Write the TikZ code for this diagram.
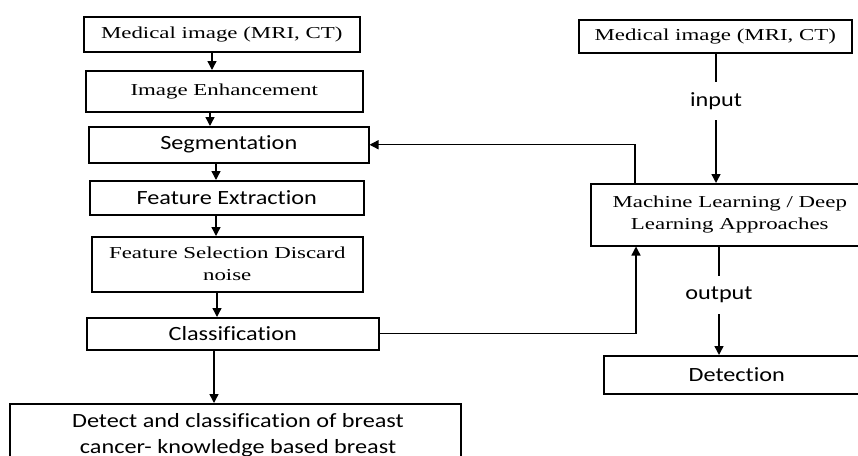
\documentclass[tikz,border=0pt]{standalone}
\usepackage{fontspec}
\usetikzlibrary{arrows.meta}
\newfontfamily\serifB[FakeStretch=1.37]{Liberation Serif}
\newfontfamily\sansB[FakeStretch=1.2,Ligatures=NoCommon]{Carlito}
\begin{document}
\begin{tikzpicture}[x=1pt,y=-1pt,
  box/.style={draw=black, line width=1.5pt, inner sep=0pt, anchor=north west, align=center, text=black},
  serif/.style={font=\serifB\fontsize{16.7}{22}\selectfont},
  sans/.style={font=\sansB\fontsize{20.2}{26}\selectfont},
  arr/.style={line width=1.4pt, -{Triangle[width=9pt,length=9pt]}},
  ln/.style={line width=1.4pt}]
\useasboundingbox (0,0) rectangle (858,455);
\clip (0,0) rectangle (858,455);
% left column
\node[box,serif,minimum width=276pt,minimum height=35pt] (b1) at (83,16) {Medical image (MRI, CT)};
\node[box,serif,minimum width=277pt,minimum height=41pt] (b2) at (85,70) {Image Enhancement};
\node[box,sans,minimum width=280pt,minimum height=36pt] (seg) at (88,126) {Segmentation};
\node[box,sans,minimum width=274pt,minimum height=34pt] (b4) at (89,180) {Feature Extraction};
\node[box,serif,minimum width=271pt,minimum height=55pt] (b5) at (91,236) {Feature Selection Discard\\noise};
\node[box,sans,minimum width=292pt,minimum height=32pt] (cls) at (86,317) {Classification};
\node[box,minimum width=451pt,minimum height=90pt] (b7) at (9,403) {};
\node[sans,align=center,anchor=base,inner sep=0pt] (b7t) at (238,453) {Detect and classification of breast\\cancer- knowledge based breast};
% right column
\node[box,serif,minimum width=273pt,minimum height=33pt] (r1) at (578,19) {Medical image (MRI, CT)};
\node[box,serif,minimum width=278pt,minimum height=62pt] (ml) at (590,183) {Machine Learning / Deep\\Learning Approaches};
\node[box,sans,minimum width=266pt,minimum height=38pt] (det) at (603,355) {Detection};
\node[sans,inner sep=0pt,minimum height=38pt] (inp) at (716,101) {input};
\node[sans,inner sep=0pt,minimum height=38pt] (outp) at (719,295) {output};
% connector x positions
\coordinate (c1) at (212,0);
\coordinate (c2) at (210,0);
\coordinate (c3) at (216,0);
\coordinate (c4) at (216,0);
\coordinate (c5) at (217,0);
\coordinate (c6) at (214,0);
\coordinate (cf) at (635,0);
\coordinate (cc) at (636,0);
\draw[arr] (b1.south -| c1) -- (b2.north -| c1);
\draw[arr] (b2.south -| c2) -- (seg.north -| c2);
\draw[arr] (seg.south -| c3) -- (b4.north -| c3);
\draw[arr] (b4.south -| c4) -- (b5.north -| c4);
\draw[arr] (b5.south -| c5) -- (cls.north -| c5);
\draw[arr] (cls.south -| c6) -- (b7.north -| c6);
\draw[arr] (ml.north -| cf) |- (seg.east);
\draw[arr] (cls.east) -| (ml.south -| cc);
\draw[ln] (r1.south -| inp) -- (inp.north);
\draw[arr] (inp.south) -- (ml.north -| inp);
\draw[ln] (ml.south -| outp) -- (outp.north);
\draw[arr] (outp.south) -- (det.north -| outp);
\end{tikzpicture}
\end{document}
